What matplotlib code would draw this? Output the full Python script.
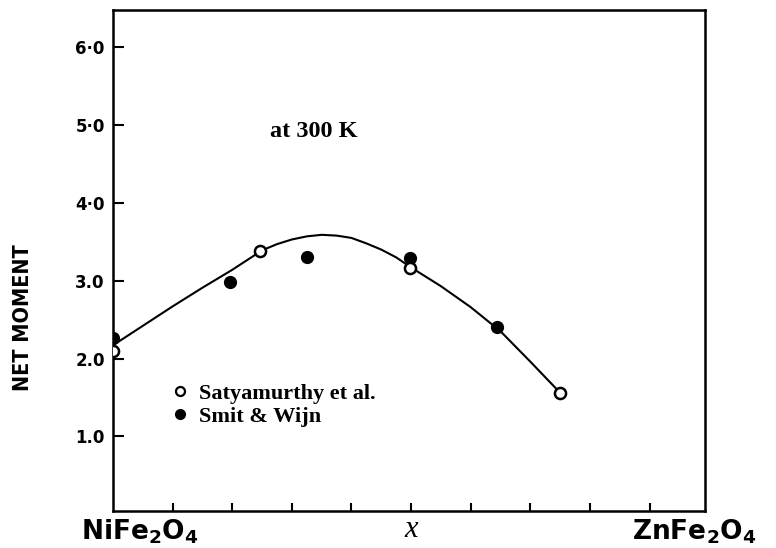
import matplotlib
matplotlib.use("Agg")
import matplotlib.pyplot as plt
from matplotlib.lines import Line2D
import matplotlib.transforms as mtransforms

# ---- data ----
satya_x = [0.0, 2.47, 4.98, 7.50]
satya_y = [2.10, 3.38, 3.16, 1.56]

smit_x = [0.0, 1.96, 3.26, 4.98, 6.44]
smit_y = [2.26, 2.98, 3.30, 3.29, 2.40]

curve_x = [0.0, 0.5, 1.0, 1.5, 2.0, 2.5, 2.75, 3.0, 3.25, 3.5, 3.75, 4.0, 4.25,
           4.5, 4.75, 5.0, 5.5, 6.0, 6.5, 7.0, 7.5]
curve_y = [2.17, 2.42, 2.67, 2.91, 3.14, 3.39, 3.47, 3.53, 3.57, 3.59, 3.58, 3.55, 3.48,
           3.40, 3.30, 3.17, 2.93, 2.66, 2.35, 1.96, 1.56]

ytick_vals = [1, 2, 3, 4, 5, 6]
ytick_labels = ["1.0", "2.0", "3.0", "4·0", "5·0", "6·0"]
xtick_vals = [1, 2, 3, 4, 5, 6, 7, 8, 9]

plt.rcParams['mathtext.default'] = 'bf'

fig = plt.figure(figsize=(7.76, 5.48), dpi=100)
ax = fig.add_axes([0.1456, 0.0675, 0.7629, 0.9143])

ax.plot(curve_x, curve_y, color='black', lw=1.5, zorder=2)
ax.plot(smit_x, smit_y, 'o', ms=8.5, mfc='black', mec='black', zorder=3,
        label='Smit & Wijn')
ax.plot(satya_x, satya_y, 'o', ms=8, mfc='white', mec='black', mew=1.8, zorder=4,
        label='Satyamurthy et al.')

ax.set_xlim(0, 9.93)
ax.set_ylim(0.04, 6.48)

for s in ax.spines.values():
    s.set_linewidth(1.8)

ax.set_xticks(xtick_vals)
ax.set_xticklabels([])
ax.tick_params(axis='x', direction='in', length=6, width=1.5)
ax.set_yticks(ytick_vals)
ax.set_yticklabels(ytick_labels, fontsize=12, fontweight='bold')
ax.tick_params(axis='y', direction='in', length=8, width=1.5, pad=6)

trans = mtransforms.blended_transform_factory(ax.transData, ax.transAxes)
ax.text(0.45, -0.042, "NiFe$_2$O$_4$", transform=trans, ha='center', va='center',
        fontsize=19, fontweight='bold', clip_on=False)
ax.text(9.75, -0.042, "ZnFe$_2$O$_4$", transform=trans, ha='center', va='center',
        fontsize=19, fontweight='bold', clip_on=False)
ax.text(5.0, -0.036, "x", transform=trans, ha='center', va='center',
        fontsize=22, fontstyle='italic', family='Liberation Serif', clip_on=False)

ax.set_ylabel("NET MOMENT", fontsize=15.5, family='DejaVu Sans', fontstretch='condensed',
              fontweight='bold')
ax.yaxis.set_label_coords(-0.135, 0.385)

ax.text(3.37, 4.92, "at 300 K", ha='center', va='center', fontsize=17.5,
        fontweight='bold', family='Liberation Serif')

handles = [Line2D([], [], marker='o', ls='none', ms=6.5, mfc='white', mec='black', mew=1.6),
           Line2D([], [], marker='o', ls='none', ms=7, mfc='black', mec='black')]
ax.legend(handles, ['Satyamurthy et al.', 'Smit & Wijn'], loc='upper left',
          bbox_to_anchor=(0.065, 0.295), frameon=False, handlelength=0.8,
          handletextpad=0.45, labelspacing=0.1,
          prop={'family': 'Liberation Serif', 'weight': 'bold', 'size': 16})

fig.savefig("out.png", dpi=100)
